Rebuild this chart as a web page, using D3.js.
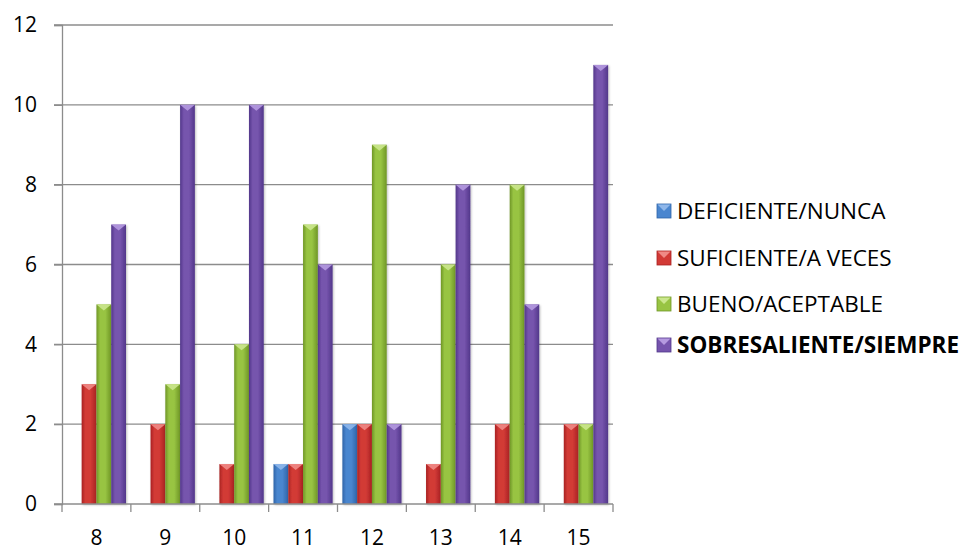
<!DOCTYPE html>
<html>
<head>
<meta charset="utf-8">
<script src="https://cdn.jsdelivr.net/npm/d3@7"></script>
<style>
  body { margin: 0; background: #fff; }
  svg { font-family: "Open Sans", Lato, sans-serif; }
</style>
</head>
<body>
<svg class="bar-chart"></svg>
<script>
const width = 967;
const height = 550;

// Data
const categories = ['8', '9', '10', '11', '12', '13', '14', '15'];
const seriesNames = ['DEFICIENTE/NUNCA', 'SUFICIENTE/A VECES', 'BUENO/ACEPTABLE', 'SOBRESALIENTE/SIEMPRE'];
const deficiente = [0, 0, 0, 1, 2, 0, 0, 0];
const suficiente = [3, 2, 1, 1, 2, 1, 2, 2];
const bueno = [5, 3, 4, 7, 9, 6, 8, 2];
const sobresaliente = [7, 10, 10, 6, 2, 8, 5, 11];
const yTicks = [0, 2, 4, 6, 8, 10, 12];

const seriesValues = [deficiente, suficiente, bueno, sobresaliente];
const colors = [
    { dark: '#2f64a8', mid: '#4a86cf', light: '#8fb7ea' },
    { dark: '#a82222', mid: '#d23a36', light: '#f08a86' },
    { dark: '#6f9626', mid: '#98c443', light: '#cbe78e' },
    { dark: '#52378a', mid: '#7654ad', light: '#b59ae0' }
];

const plot = { left: 62, right: 613, top: 25, bottom: 504 };

const svg = d3.select('.bar-chart')
    .attr('width', width)
    .attr('height', height);

// gradients
const defs = svg.append('defs');
colors.forEach((c, i) => {
    const g = defs.append('linearGradient')
        .attr('id', 'grad' + i)
        .attr('x1', 0).attr('x2', 1).attr('y1', 0).attr('y2', 0);
    g.append('stop').attr('offset', '0%').attr('stop-color', c.dark);
    g.append('stop').attr('offset', '25%').attr('stop-color', c.mid);
    g.append('stop').attr('offset', '60%').attr('stop-color', c.mid);
    g.append('stop').attr('offset', '100%').attr('stop-color', c.dark);
});
const shadow = defs.append('filter').attr('id', 'shadow')
    .attr('x', '-30%').attr('y', '-10%').attr('width', '160%').attr('height', '130%');
shadow.append('feDropShadow')
    .attr('dx', 1).attr('dy', 1).attr('stdDeviation', 1.2)
    .attr('flood-color', '#000').attr('flood-opacity', 0.25);

// Scales
const x0 = d3.scaleBand()
    .domain(categories)
    .range([plot.left, plot.right])
    .padding(0);

const x1 = d3.scaleBand()
    .domain(d3.range(seriesNames.length))
    .range([0, x0.bandwidth()])
    .paddingOuter(0.33)
    .paddingInner(0);

const y = d3.scaleLinear()
    .domain([0, 12])
    .range([plot.bottom, plot.top]);

// Gridlines
svg.append('g')
    .selectAll('line')
    .data(yTicks.filter(d => d > 0))
    .enter().append('line')
    .attr('x1', plot.left - 8)
    .attr('x2', plot.right)
    .attr('y1', d => y(d))
    .attr('y2', d => y(d))
    .attr('stroke', '#8c8c8c')
    .attr('stroke-width', 1.3);

// Y axis
const yAxis = d3.axisLeft(y).tickValues(yTicks).tickSize(8).tickPadding(17);
const yG = svg.append('g')
    .attr('transform', `translate(${plot.left},0)`)
    .call(yAxis);
yG.select('.domain').attr('stroke', '#8c8c8c').attr('stroke-width', 1.3);
yG.selectAll('.tick line').attr('stroke', '#8c8c8c').attr('stroke-width', 1.3);
yG.selectAll('.tick text')
    .attr('font-size', 21)
    .attr('fill', '#000')
    .style('font-family', '"Open Sans", sans-serif');

// Bars
const groups = svg.append('g')
    .selectAll('g')
    .data(categories)
    .enter().append('g')
    .attr('transform', d => `translate(${x0(d)},0)`);

const bars = groups.selectAll('g.bar')
    .data((d, ci) => seriesValues.map((vals, si) => ({ si, v: vals[ci] })).filter(b => b.v > 0))
    .enter().append('g')
    .attr('class', 'bar');

bars.append('rect')
    .attr('x', d => x1(d.si))
    .attr('y', d => y(d.v))
    .attr('width', x1.bandwidth())
    .attr('height', d => y(0) - y(d.v))
    .attr('fill', d => `url(#grad${d.si})`)
    .attr('filter', 'url(#shadow)');

// bevel on top of each bar
bars.append('path')
    .attr('d', d => {
        const bx = x1(d.si);
        const bw = x1.bandwidth();
        const by = y(d.v);
        return `M${bx},${by} L${bx + bw},${by} L${bx + bw / 2},${by + 6} Z`;
    })
    .attr('fill', d => colors[d.si].light)
    .attr('opacity', 0.9);

// X axis
const xAxis = d3.axisBottom(x0).tickSize(0).tickPadding(26);
const xG = svg.append('g')
    .attr('transform', `translate(0,${plot.bottom})`)
    .call(xAxis);
xG.select('.domain').remove();
xG.append('line')
    .attr('x1', plot.left - 8).attr('x2', plot.right)
    .attr('stroke', '#8c8c8c').attr('stroke-width', 1.3);
xG.selectAll('.sep')
    .data(d3.range(categories.length + 1))
    .enter().append('line')
    .attr('class', 'sep')
    .attr('x1', i => plot.left + i * x0.step())
    .attr('x2', i => plot.left + i * x0.step())
    .attr('y1', 0).attr('y2', 8)
    .attr('stroke', '#8c8c8c').attr('stroke-width', 1.3);
xG.selectAll('.tick text')
    .attr('font-size', 21)
    .attr('fill', '#000')
    .style('font-family', '"Open Sans", sans-serif');

// Legend
const legendY = [211, 258, 304, 345];
const legend = svg.append('g')
    .selectAll('g')
    .data(seriesNames)
    .enter().append('g')
    .attr('transform', (d, i) => `translate(657,${legendY[i]})`);

legend.append('rect')
    .attr('x', 0).attr('y', -7)
    .attr('width', 14).attr('height', 14)
    .attr('fill', (d, i) => colors[i].mid)
    .attr('stroke', (d, i) => colors[i].dark)
    .attr('stroke-width', 0.8);
legend.append('path')
    .attr('d', 'M0.5,-6.5 L13.5,-6.5 L7,0 Z')
    .attr('fill', (d, i) => colors[i].light);

legend.append('text')
    .attr('x', 20)
    .attr('y', 0)
    .attr('dy', '0.35em')
    .attr('font-size', 22.5)
    .attr('font-weight', (d, i) => i === 3 ? 'bold' : 'normal')
    .attr('fill', '#000')
    .text(d => d);
</script>
</body>
</html>
